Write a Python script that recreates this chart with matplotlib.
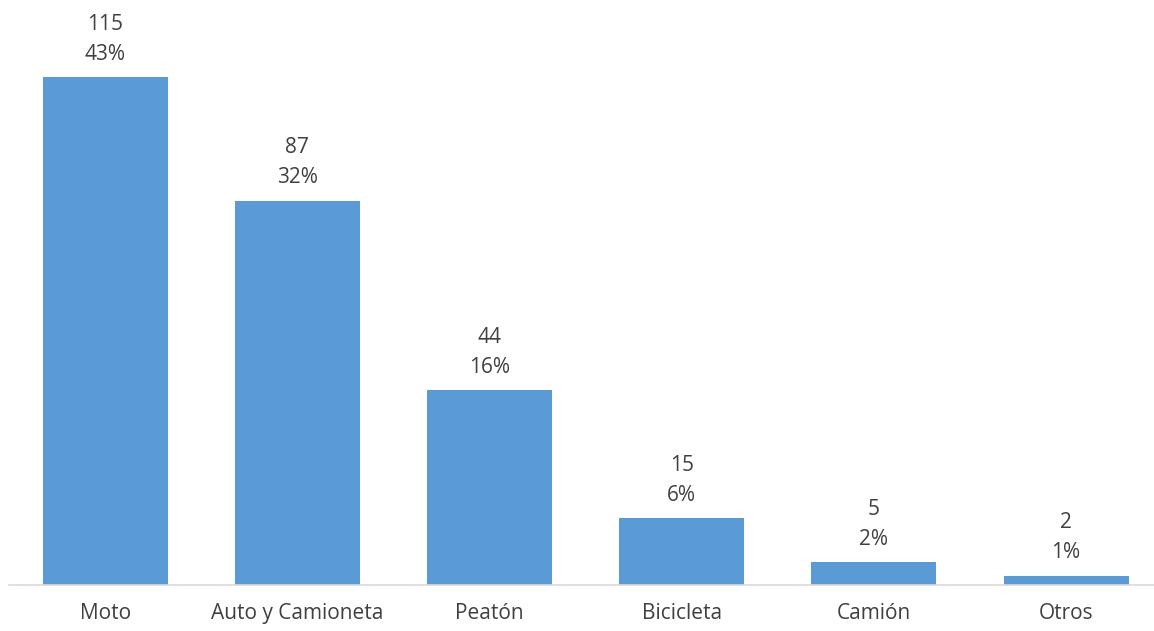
import matplotlib
matplotlib.use("Agg")
import matplotlib.pyplot as plt

categories = ["Moto", "Auto y Camioneta", "Peatón", "Bicicleta", "Camión", "Otros"]
counts = [115, 87, 44, 15, 5, 2]
percents = ["43%", "32%", "16%", "6%", "2%", "1%"]

W, H = 1154, 631
fig = plt.figure(figsize=(W / 100, H / 100), dpi=100)
left_px, base_px = 9, 584.5
ax = fig.add_axes([left_px / W, (H - base_px) / H, (W - left_px) / W, base_px / H])

spacing = 192.2
ax.set_xlim(-0.5, -0.5 + (W - left_px) / spacing)
ax.set_ylim(0, base_px / 4.41)

bar_color = "#5B9BD5"
text_color = "#404040"
font = "Open Sans"
fs = 15

x = range(len(categories))
ax.bar(x, counts, width=0.65, color=bar_color, zorder=2)

for xi, c, p in zip(x, counts, percents):
    ax.annotate(f"{c}\n{p}", xy=(xi, c), xytext=(0, 9), textcoords="offset points",
                ha="center", va="bottom", fontsize=fs, color=text_color,
                family=font, linespacing=1.58)

for s in ["top", "right", "left"]:
    ax.spines[s].set_visible(False)
ax.spines["bottom"].set_color("#D9D9D9")
ax.spines["bottom"].set_linewidth(1.2)
ax.set_yticks([])
ax.set_xticks(list(x))
ax.set_xticklabels(categories, fontsize=fs, color=text_color, family=font)
ax.tick_params(axis="x", length=0, pad=13)

fig.savefig("out.png", dpi=100)
